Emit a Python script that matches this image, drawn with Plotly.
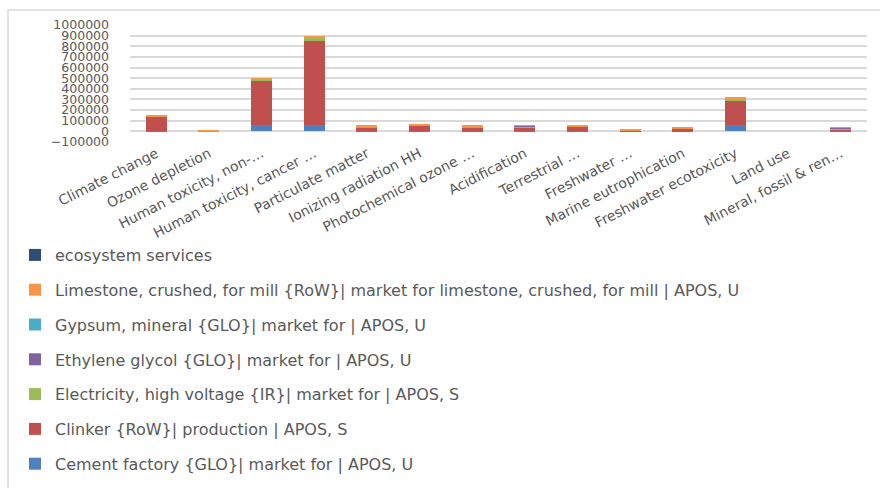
import plotly.graph_objects as go

# Impact categories (x axis)
categories = [
    "Climate change", "Ozone depletion", "Human toxicity, non-…",
    "Human toxicity, cancer …", "Particulate matter", "Ionizing radiation HH",
    "Photochemical ozone …", "Acidification", "Terrestrial …", "Freshwater …",
    "Marine eutrophication", "Freshwater ecotoxicity", "Land use",
    "Mineral, fossil & ren…",
]

# Contributions per process (stacked bottom to top)
cement_factory = [2000, 300, 62000, 62000, 1500, 1000, 800, 1200, 1000, 500, 1500, 56000, 0, 3000]
clinker = [133000, 3000, 413000, 791000, 39000, 50000, 34000, 39000, 45000, 3500, 24000, 238000, 0, 19000]
electricity = [6000, 500, 12000, 28000, 8000, 4000, 8000, 10000, 1500, 500, 1500, 15000, 0, 8000]
ethylene_glycol = [1000, 200, 3000, 2000, 500, 500, 500, 300, 500, 200, 500, 2000, 0, 3000]
gypsum = [500, 100, 1000, 1000, 500, 300, 300, 300, 300, 100, 200, 1000, 0, 500]
limestone = [6000, 8000, 5000, 14000, 7000, 10000, 7000, 2000, 3000, 11500, 5000, 10000, 0, 7000]
ecosystem_services = [0, 0, 0, 0, 0, 0, 0, 0, 0, 0, 0, 0, 0, 0]

series = [
    ("Cement factory {GLO}| market for | APOS, U", cement_factory, "#4F81BD"),
    ("Clinker {RoW}| production | APOS, S", clinker, "#C0504D"),
    ("Electricity, high voltage {IR}| market for | APOS, S", electricity, "#9BBB59"),
    ("Ethylene glycol {GLO}| market for | APOS, U", ethylene_glycol, "#8064A2"),
    ("Gypsum, mineral {GLO}| market for | APOS, U", gypsum, "#4BACC6"),
    ("Limestone, crushed, for mill {RoW}| market for limestone, crushed, for mill | APOS, U", limestone, "#F79646"),
    ("ecosystem services", ecosystem_services, "#2C4D75"),
]

y_ticks = list(range(-100000, 1000001, 100000))

fig = go.Figure()
n = len(series)
for i, (name, vals, color) in enumerate(series):
    fig.add_trace(go.Bar(
        x=categories, y=vals, name=name, legendgroup=f"g{i}",
        legendrank=n - i,
        marker=dict(color=color, line=dict(width=0)),
    ))

grid = "#D9D9D9"
text_col = "#595959"

fig.update_layout(
    width=880, height=488,
    margin=dict(l=130, r=13, t=25, b=346, autoexpand=False),
    paper_bgcolor="white", plot_bgcolor="white",
    barmode="stack", bargap=0.6,
    font=dict(family="DejaVu Sans", color=text_col),
    showlegend=True,
    legend=dict(
        traceorder="grouped", tracegroupgap=11,
        orientation="v",
        xref="container", yref="container",
        x=15 / 880, xanchor="left", y=1 - 238 / 488, yanchor="top",
        font=dict(size=16, color=text_col, family="DejaVu Sans"),
        bgcolor="rgba(0,0,0,0)",
    ),
    xaxis=dict(
        tickangle=-27, tickfont=dict(size=14, color=text_col),
        showgrid=False, showline=False, ticks="",
    ),
    yaxis=dict(
        range=[-100000, 1000000], tickvals=y_ticks, tickformat="d",
        tickfont=dict(size=12.5, color=text_col),
        showgrid=True, gridcolor=grid, gridwidth=1.5,
        zeroline=True, zerolinecolor=grid, zerolinewidth=1.5,
        showline=False, ticks="", ticklabelstandoff=20,
    ),
    shapes=[dict(
        type="rect", xref="paper", yref="paper",
        x0=-0.1655, x1=1.2, y0=-5, y1=1.128,
        line=dict(color="#D9D9D9", width=1.5), fillcolor="rgba(0,0,0,0)",
        layer="below",
    )],
)

fig.write_html("out.html")
